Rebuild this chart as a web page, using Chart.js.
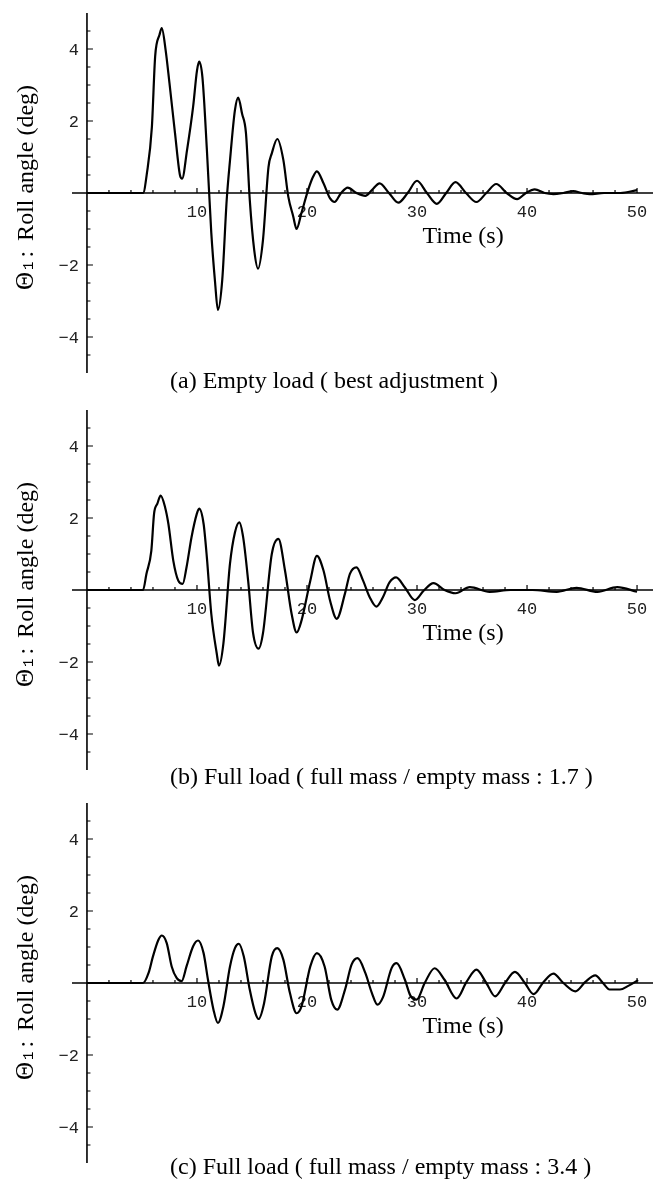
<!DOCTYPE html>
<html>
<head>
<meta charset="utf-8">
<script src="https://cdn.jsdelivr.net/npm/chart.js@4.4.1/dist/chart.umd.min.js"></script>
<style>
  html, body { margin: 0; padding: 0; background: #fff; overflow: hidden; }
  #wrap { position: relative; width: 653px; height: 1182px; }
  canvas { position: absolute; left: 0; }
</style>
</head>
<body>
<div id="wrap">
  <canvas id="panelA" width="653" height="394" style="top:0px"></canvas>
  <canvas id="panelB" width="653" height="394" style="top:397px"></canvas>
  <canvas id="panelC" width="653" height="394" style="top:790px"></canvas>
</div>
<script>
// roll response, empty load
const timeA = [0, 5.1, 5.45, 5.9, 6.2, 6.6, 6.8, 7.15, 7.5, 8.0,
  8.45, 8.65, 9.1, 9.65, 10.0, 10.2, 10.5, 10.9, 11.3, 11.65,
  11.9, 12.3, 12.7, 13.0, 13.45, 13.75, 14.1, 14.45, 14.8, 15.2,
  15.55, 16.0, 16.5, 16.8, 17.3, 17.85, 18.3, 18.75, 19.05, 19.5,
  20.1, 20.55, 20.9, 21.5, 22.1, 22.5, 23.1, 23.7, 24.5, 25.3,
  25.9, 26.6, 27.45, 28.3, 29.15, 30.0, 30.9, 31.8, 32.65, 33.5,
  34.45, 35.4, 36.3, 37.2, 38.15, 39.1, 39.9, 40.7, 41.6, 42.4,
  43.3, 44.2, 45.0, 45.7, 47.0, 48.5, 50.0];
const rollA = [0, 0, 0.55, 1.83, 3.8, 4.4, 4.58, 3.97, 3.05, 1.67,
  0.5, 0.4, 1.2, 2.4, 3.4, 3.65, 3.2, 1.2, -1.1, -2.5,
  -3.25, -2.4, -0.2, 0.9, 2.3, 2.65, 2.2, 1.67, -0.2, -1.58,
  -2.1, -1.3, 0.72, 1.1, 1.5, 0.92, -0.1, -0.65, -1.0, -0.55,
  0.08, 0.45, 0.6, 0.27, -0.15, -0.25, 0.0, 0.15, 0.0, -0.08,
  0.08, 0.27, 0.0, -0.27, 0.0, 0.34, 0.0, -0.3, 0.0, 0.3,
  0.0, -0.25, 0.0, 0.25, 0.0, -0.17, 0.0, 0.1, 0.0, -0.03,
  0.0, 0.05, 0.0, -0.03, 0.0, 0.0, 0.08];

// full load, mass ratio 1.7
const timeB = [0, 5.1, 5.4, 5.85, 6.1, 6.4, 6.7, 7.1, 7.4, 7.85,
  8.3, 8.7, 9.05, 9.5, 9.97, 10.2, 10.6, 10.9, 11.3, 11.8,
  12.0, 12.4, 13.0, 13.45, 13.85, 14.2, 14.65, 15.1, 15.6, 16.0,
  16.8, 17.4, 18.0, 18.6, 19.06, 19.5, 20.3, 20.9, 21.5, 22.1,
  22.7, 23.45, 23.9, 24.5, 25.1, 25.7, 26.3, 26.9, 27.5, 28.1,
  28.9, 29.8, 30.6, 31.5, 32.5, 33.5, 34.8, 36.6, 38.5, 40.5,
  42.7, 44.5, 46.4, 48.2, 50.0];
const rollB = [0, 0, 0.44, 1.09, 2.12, 2.4, 2.62, 2.3, 1.84, 0.81,
  0.26, 0.17, 0.63, 1.46, 2.1, 2.26, 1.84, 0.9, -0.66, -1.77,
  -2.1, -1.49, 0.73, 1.6, 1.88, 1.46, 0.26, -1.2, -1.63, -1.2,
  1.0, 1.42, 0.54, -0.66, -1.18, -0.85, 0.26, 0.95, 0.54, -0.3,
  -0.8, -0.1, 0.45, 0.63, 0.26, -0.2, -0.46, -0.2, 0.21, 0.35,
  0.07, -0.28, -0.02, 0.19, 0.0, -0.09, 0.08, -0.05, 0.0, 0.0,
  -0.05, 0.06, -0.05, 0.08, -0.05];

// full load, mass ratio 3.4
const timeC = [0, 5.1, 5.6, 6.0, 6.5, 6.8, 7.25, 7.7, 8.15, 8.6,
  9.05, 9.65, 10.1, 10.6, 11.0, 11.5, 11.9, 12.4, 13.0, 13.45,
  13.8, 14.25, 14.8, 15.3, 15.6, 16.1, 16.8, 17.3, 17.85, 18.45,
  19.06, 19.5, 20.3, 20.9, 21.6, 22.2, 22.75, 23.45, 24.05, 24.6,
  25.3, 25.9, 26.4, 26.9, 27.7, 28.15, 28.9, 29.4, 29.97, 30.7,
  31.6, 32.5, 33.6, 34.5, 35.4, 36.3, 37.1, 38.0, 38.9, 39.8,
  40.6, 41.5, 42.4, 43.3, 44.4, 45.3, 46.2, 46.9, 47.5, 48.45,
  49.2, 50.1];
const rollC = [0, 0, 0.28, 0.74, 1.2, 1.32, 1.11, 0.46, 0.14, 0.05,
  0.46, 1.02, 1.18, 0.83, 0.09, -0.74, -1.11, -0.65, 0.46, 0.97,
  1.09, 0.74, -0.19, -0.83, -1.0, -0.56, 0.74, 0.97, 0.65, -0.28,
  -0.84, -0.65, 0.46, 0.83, 0.46, -0.46, -0.74, -0.19, 0.51, 0.69,
  0.28, -0.28, -0.6, -0.4, 0.42, 0.55, 0.09, -0.35, -0.46, 0.0,
  0.41, 0.09, -0.43, 0.03, 0.37, 0.0, -0.37, 0.0, 0.31, 0.0,
  -0.31, 0.03, 0.26, 0.0, -0.23, 0.03, 0.21, 0.0, -0.18, -0.18,
  -0.08, 0.08];

const xTickLabels = [10, 20, 30, 40, 50];
const yTickLabels = [4, 2, -2, -4];
const captions = [
  '(a) Empty load ( best adjustment )',
  '(b) Full load ( full mass / empty mass : 1.7 )',
  '(c) Full load ( full mass / empty mass : 3.4 )'
];

const SERIF = '"Liberation Serif", "Times New Roman", serif';
const MONO = '"Liberation Mono", "Courier New", monospace';

// axes crossing at the origin, ticks pointing inward, like a Mathematica Plot
const crossAxes = {
  id: 'crossAxes',
  beforeDatasetsDraw(chart, args, opts) {
    const { ctx, chartArea } = chart;
    const xs = chart.scales.x, ys = chart.scales.y;
    const x0 = xs.getPixelForValue(0);
    const y0 = ys.getPixelForValue(0);

    ctx.save();
    ctx.strokeStyle = '#000';
    ctx.lineWidth = 1.6;
    ctx.beginPath();
    ctx.moveTo(chartArea.left, y0);
    ctx.lineTo(chartArea.right, y0);
    ctx.moveTo(x0, chartArea.top);
    ctx.lineTo(x0, chartArea.bottom);
    ctx.stroke();

    // x ticks every 2 s, longer every 10 s
    ctx.lineWidth = 1.2;
    ctx.beginPath();
    for (let t = 2; t <= 50; t += 2) {
      const px = xs.getPixelForValue(t);
      const len = t % 10 === 0 ? 5 : 3;
      ctx.moveTo(px, y0);
      ctx.lineTo(px, y0 - len);
    }
    // y ticks every 0.5 deg, longer every 2 deg
    for (let k = -9; k <= 9; k++) {
      if (k === 0) continue;
      const v = k / 2;
      const py = ys.getPixelForValue(v);
      const len = k % 4 === 0 ? 6 : 3.5;
      ctx.moveTo(x0, py);
      ctx.lineTo(x0 + len, py);
    }
    ctx.stroke();

    // tick labels
    ctx.fillStyle = '#222';
    ctx.font = '17px ' + MONO;
    ctx.textAlign = 'center';
    ctx.textBaseline = 'top';
    xTickLabels.forEach(v => ctx.fillText(String(v), xs.getPixelForValue(v), y0 + 11));
    ctx.textAlign = 'right';
    ctx.textBaseline = 'middle';
    yTickLabels.forEach(v => {
      const s = v < 0 ? '\u2212' + Math.abs(v) : String(v);
      ctx.fillText(s, x0 - 8, ys.getPixelForValue(v) + 1);
    });

    // axis titles
    ctx.fillStyle = '#000';
    ctx.font = '24px ' + SERIF;
    ctx.textAlign = 'left';
    ctx.textBaseline = 'alphabetic';
    ctx.fillText('Time (s)', xs.getPixelForValue(30.5), y0 + 50);

    ctx.save();
    ctx.translate(33, y0 + 97);
    ctx.rotate(-Math.PI / 2);
    let cx = 0;
    ctx.font = '25px ' + SERIF;
    ctx.fillText('\u0398', cx, 0);
    cx += ctx.measureText('\u0398').width + 2;
    ctx.font = '14px ' + MONO;
    ctx.fillText('1', cx, 0);
    cx += ctx.measureText('1').width + 4;
    ctx.font = '24px ' + SERIF;
    ctx.fillText(':', cx, 0);
    cx += ctx.measureText(':').width + 10;
    ctx.fillText('Roll angle (deg)', cx, 0);
    ctx.restore();

    // caption under the panel
    ctx.font = '24px ' + SERIF;
    ctx.fillText(opts.caption, 170, chartArea.bottom + opts.captionGap);
    ctx.restore();
  }
};

function makePanel(id, times, rolls, caption, captionGap) {
  const points = times.map((t, i) => ({ x: t, y: rolls[i] }));
  return new Chart(document.getElementById(id), {
    type: 'line',
    data: {
      datasets: [{
        data: points,
        borderColor: '#000',
        borderWidth: 2.2,
        pointRadius: 0,
        fill: false,
        cubicInterpolationMode: 'monotone'
      }]
    },
    options: {
      responsive: false,
      animation: false,
      layout: { padding: { left: 72, right: 0, top: 13, bottom: 21 } },
      scales: {
        x: { type: 'linear', min: -1.36, max: 51.45, display: false },
        y: { type: 'linear', min: -5, max: 5, display: false }
      },
      plugins: {
        legend: { display: false },
        tooltip: { enabled: false },
        crossAxes: { caption: caption, captionGap: captionGap }
      }
    },
    plugins: [crossAxes]
  });
}

makePanel('panelA', timeA, rollA, captions[0], 15);
makePanel('panelB', timeB, rollB, captions[1], 14);
makePanel('panelC', timeC, rollC, captions[2], 11);
</script>
</body>
</html>
